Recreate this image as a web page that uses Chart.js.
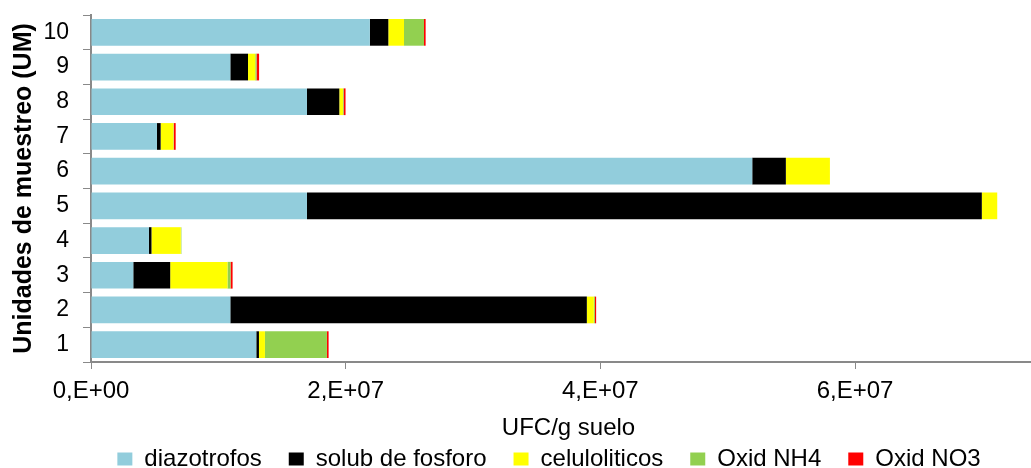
<!DOCTYPE html>
<html lang="es">
<head>
  <meta charset="UTF-8">
  <title>UFC/g suelo por unidad de muestreo</title>
  <script src="https://cdn.jsdelivr.net/npm/chart.js"></script>
  <style>
    html, body {
      margin: 0;
      padding: 0;
      background: #fff;
      overflow: hidden;
    }
    #wrap {
      width: 1046px;
      height: 468px;
      position: relative;
    }
  </style>
</head>
<body>
<div id="wrap"><canvas id="chart"></canvas></div>

<script>
const categories = ['1', '2', '3', '4', '5', '6', '7', '8', '9', '10'];
const diazotrofos = [1.298e7, 1.094e7, 3.32e6, 4.55e6, 1.696e7, 5.193e7, 5.18e6, 1.696e7, 1.094e7, 2.19e7];
const solubFosforo = [2.1e5, 2.80e7, 2.9e6, 2.0e5, 5.30e7, 2.64e6, 2.9e5, 2.54e6, 1.39e6, 1.45e6];
const celuloliticos = [4.7e5, 5.5e5, 4.5e6, 2.3e6, 1.21e6, 3.46e6, 1.0e6, 2.9e5, 5.7e5, 1.23e6];
const oxidNH4 = [4.87e6, 8e4, 2.4e5, 5e4, 0, 0, 3e4, 5e4, 1e5, 1.57e6];
const oxidNO3 = [1.3e5, 1e5, 1.6e5, 0, 0, 0, 1.5e5, 1.5e5, 2e5, 1.3e5];
const xTicks = [0, 2e7, 4e7, 6e7];
const xMax = 7.5e7;

const font = 'Liberation Sans, Arial, sans-serif';
const axisGrey = '#898989';

function sciLabel(v) {
  if (v === 0) return '0,E+00';
  const exp = Math.floor(Math.log10(v));
  const mant = Math.round(v / Math.pow(10, exp));
  return mant + ',E+' + String(exp).padStart(2, '0');
}

function series(label, data, color) {
  return {
    label: label,
    data: data,
    backgroundColor: color,
    borderWidth: 0,
    barPercentage: 0.77,
    categoryPercentage: 1
  };
}

// legend sits a bit right of the canvas centre in the original
const shiftLegend = {
  id: 'shiftLegend',
  afterLayout(chart) {
    const lg = chart.legend;
    if (!lg) return;
    lg.left += 26;
    lg.right += 26;
  }
};

new Chart(document.getElementById('chart'), {
  type: 'bar',
  data: {
    labels: categories,
    datasets: [
      series('diazotrofos', diazotrofos, '#92CDDC'),
      series('solub de fosforo', solubFosforo, '#000000'),
      series('celuloliticos', celuloliticos, '#FFFF00'),
      series('Oxid NH4', oxidNH4, '#92D050'),
      series('Oxid NO3', oxidNO3, '#FF0000')
    ]
  },
  plugins: [shiftLegend],
  options: {
    indexAxis: 'y',
    responsive: true,
    maintainAspectRatio: false,
    animation: false,
    layout: { padding: { top: 15, right: 0, left: 0, bottom: -13 } },
    plugins: {
      tooltip: { enabled: false },
      legend: {
        position: 'bottom',
        labels: {
          color: '#000',
          font: { family: font, size: 24 },
          boxWidth: 15,
          boxHeight: 13,
          padding: 27
        }
      }
    },
    scales: {
      x: {
        stacked: true,
        min: 0,
        max: xMax,
        afterBuildTicks: axis => {
          axis.ticks = xTicks.map(v => ({ value: v }));
        },
        afterFit: axis => { axis.height = 58; },
        ticks: {
          color: '#000',
          font: { family: font, size: 24 },
          padding: 8,
          maxRotation: 0,
          callback: v => sciLabel(v)
        },
        grid: {
          drawOnChartArea: false,
          color: axisGrey,
          tickLength: 7
        },
        border: { color: axisGrey, width: 2 },
        title: {
          display: true,
          text: 'UFC/g suelo',
          color: '#000',
          font: { family: font, size: 24, lineHeight: 1 },
          padding: { top: 0, bottom: -20 }
        }
      },
      y: {
        stacked: true,
        reverse: true,
        afterFit: axis => {
          axis.width = 91;
          axis.paddingTop = 0;
          axis.paddingBottom = 0;
        },
        ticks: {
          color: '#000',
          font: { family: font, size: 23 },
          padding: 14
        },
        grid: {
          drawOnChartArea: false,
          color: axisGrey,
          tickLength: 8
        },
        border: { color: axisGrey, width: 2 },
        title: {
          display: true,
          text: 'Unidades de muestreo (UM)',
          color: '#000',
          font: { family: font, size: 25, weight: 'bold' },
          padding: { top: 9, bottom: 0 }
        }
      }
    }
  }
});
</script>
</body>
</html>
